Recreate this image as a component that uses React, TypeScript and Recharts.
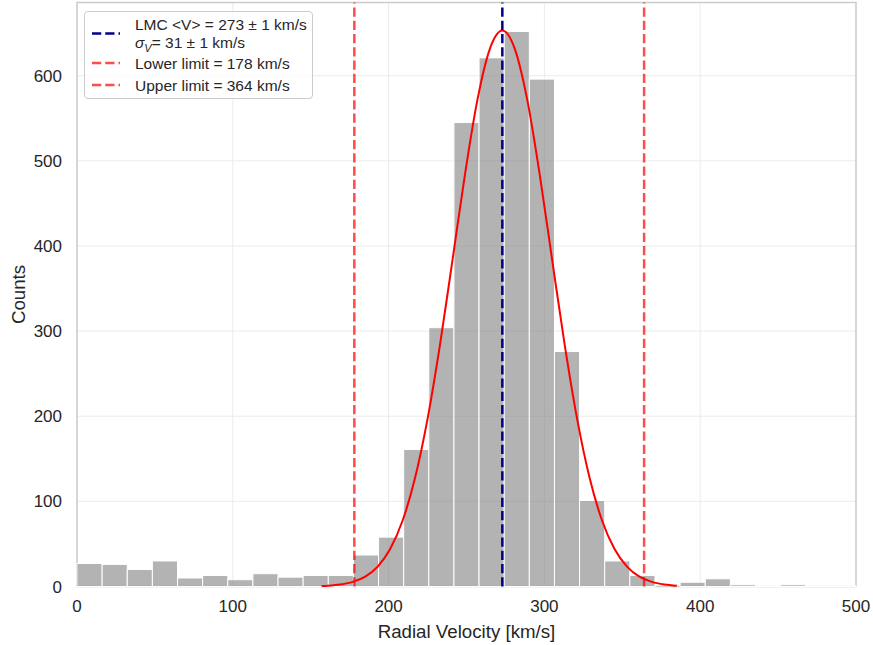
import React from "react";
import {
  ComposedChart, Bar, Line, XAxis, YAxis, CartesianGrid,
  ReferenceLine, ReferenceArea,
} from "recharts";

// histogram of radial velocities: 31 equal bins between 0 and 500 km/s
const binCounts = [
  27, 26, 20, 30, 10, 13, 8, 15, 11, 13, 13, 37, 58, 161, 304, 545,
  621, 652, 596, 276, 101, 30, 13, 0, 5, 9, 2, 1, 2, 1, 1,
];
const vRange = [0, 500];

// gaussian fit sampled along the velocity axis
const fitV = [
  157, 161, 169, 177, 185, 193, 201, 209, 217, 225, 233, 241, 249, 257, 265,
  273, 281, 289, 297, 305, 313, 321, 329, 337, 345, 353, 361, 369, 377, 385,
];
const fitCounts = [
  0.6, 1, 2.4, 5.4, 11.6, 23.4, 44, 77.5, 127.7, 196.9, 284.1, 383.3, 483.9, 571.6, 631.6,
  653, 631.6, 571.6, 483.9, 383.3, 284.1, 196.9, 127.7, 77.5, 44, 23.4, 11.6, 5.4, 2.4, 1,
];

const meanV = 273;
const lowerV = 178;
const upperV = 364;

const xTicks = [0, 100, 200, 300, 400, 500];
const yTicks = [0, 100, 200, 300, 400, 500, 600];
const yMax = 686;

const binW = (vRange[1] - vRange[0]) / binCounts.length;
const histData = binCounts.map((count, i) => ({ v: vRange[0] + (i + 0.5) * binW, count }));
const fitData = fitV.map((v, i) => ({ v, fit: fitCounts[i] }));

const FONT = "'Liberation Sans', Arial, Helvetica, sans-serif";
const INK = "#262626";
const PLOT_W = 779;
const BIN_PX = PLOT_W / binCounts.length;

// full-width histogram bin, centred on the x the Bar series hands us
const BinRect = (props: any) => {
  const { x, y, width, height } = props;
  if (!height || height <= 0) return null;
  const cx = x + width / 2;
  return (
    <rect
      x={cx - BIN_PX / 2}
      y={y}
      width={BIN_PX}
      height={height}
      fill="#808080"
      fillOpacity={0.6}
      stroke="#ffffff"
      strokeWidth={1}
    />
  );
};

export default function App() {
  return (
    <div style={{ position: "absolute", left: 0, top: 0, width: 873, height: 645, background: "#fff", fontFamily: FONT }}>
      <ComposedChart
        width={873}
        height={645}
        data={histData}
        margin={{ top: 2.5, right: 17, bottom: 0, left: 0 }}
      >
        <CartesianGrid stroke="#ebebeb" strokeWidth={1} />
        <XAxis
          type="number"
          dataKey="v"
          domain={vRange}
          ticks={xTicks}
          height={58.5}
          tickLine={false}
          axisLine={false}
          tickSize={0}
          tickMargin={13}
          tick={{ fontSize: 17, fill: INK, fontFamily: FONT }}
          label={{
            value: "Radial Velocity [km/s]",
            position: "insideBottom",
            offset: 7,
            fontSize: 18.7,
            fill: INK,
            fontFamily: FONT,
          }}
        />
        <YAxis
          type="number"
          domain={[0, yMax]}
          ticks={yTicks}
          width={77}
          tickLine={false}
          axisLine={false}
          tickSize={0}
          tickMargin={15}
          tick={{ fontSize: 17, fill: INK, fontFamily: FONT }}
          label={{
            value: "Counts",
            angle: -90,
            position: "insideLeft",
            offset: 18,
            fontSize: 18.7,
            fill: INK,
            fontFamily: FONT,
            style: { textAnchor: "middle" },
          }}
        />
        <Bar
          dataKey="count"
          shape={<BinRect />}
          isAnimationActive={false}
        />
        <Line
          data={fitData}
          dataKey="fit"
          type="monotone"
          stroke="#ff0000"
          strokeWidth={2}
          dot={false}
          activeDot={false}
          isAnimationActive={false}
        />
        <ReferenceLine x={meanV} stroke="#00008b" strokeWidth={2.5} strokeDasharray="9.25 4" />
        <ReferenceLine x={lowerV} stroke="#ff0000" strokeOpacity={0.7} strokeWidth={2.5} strokeDasharray="9.25 4" />
        <ReferenceLine x={upperV} stroke="#ff0000" strokeOpacity={0.7} strokeWidth={2.5} strokeDasharray="9.25 4" />
        <ReferenceArea x1={vRange[0]} x2={vRange[1]} y1={0} y2={yMax} fill="none" stroke="#cccccc" strokeWidth={1.5} />
      </ComposedChart>

      {/* legend box, upper left */}
      <div
        style={{
          position: "absolute", left: 84, top: 11, width: 229, height: 88,
          border: "1px solid #cccccc", borderRadius: 4, background: "rgba(255,255,255,0.8)",
          boxSizing: "border-box", color: INK, fontSize: 15.5, lineHeight: "17px",
        }}
      >
        <svg width={40} height={88} style={{ position: "absolute", left: 0, top: -1 }}>
          <line x1={7} x2={35} y1={22.5} y2={22.5} stroke="#00008b" strokeWidth={2.5} strokeDasharray="9.25 4" />
          <line x1={7} x2={35} y1={52} y2={52} stroke="#ff0000" strokeOpacity={0.7} strokeWidth={2.5} strokeDasharray="9.25 4" />
          <line x1={7} x2={35} y1={74} y2={74} stroke="#ff0000" strokeOpacity={0.7} strokeWidth={2.5} strokeDasharray="9.25 4" />
        </svg>
        <div style={{ position: "absolute", left: 50, top: 4, whiteSpace: "nowrap" }}>
          LMC &lt;V&gt; = {meanV} ± 1 km/s
        </div>
        <div style={{ position: "absolute", left: 50, top: 22, whiteSpace: "nowrap" }}>
          <i>σ<sub style={{ fontSize: 11 }}>V</sub></i>= 31 ± 1 km/s
        </div>
        <div style={{ position: "absolute", left: 50, top: 43, whiteSpace: "nowrap" }}>
          Lower limit = {lowerV} km/s
        </div>
        <div style={{ position: "absolute", left: 50, top: 65, whiteSpace: "nowrap" }}>
          Upper limit = {upperV} km/s
        </div>
      </div>
    </div>
  );
}
